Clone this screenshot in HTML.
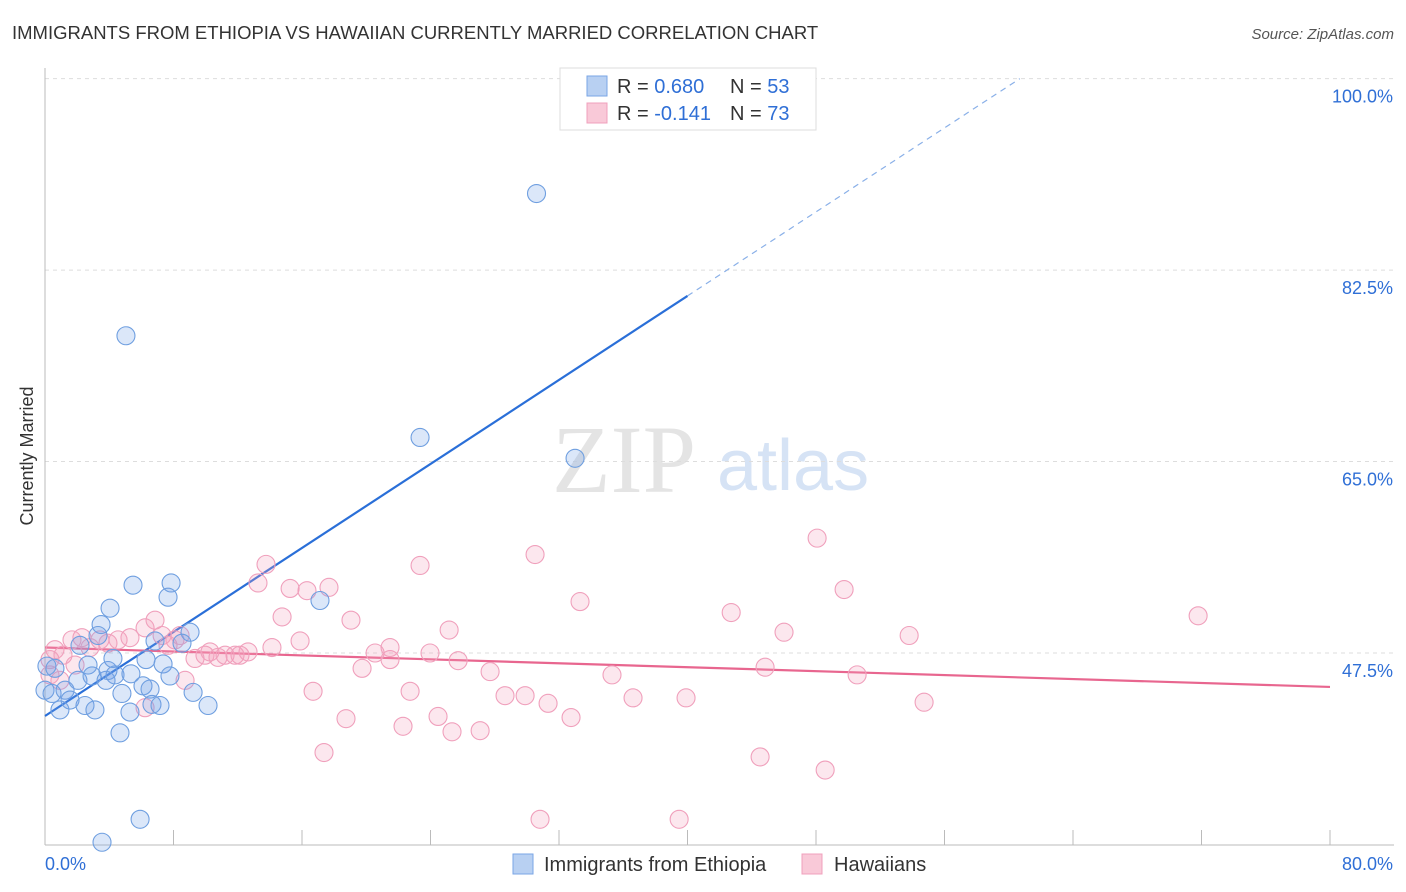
<!DOCTYPE html>
<html><head><meta charset="utf-8"><style>
body{margin:0;background:#fff;font-family:"Liberation Sans",sans-serif}
svg{display:block}
</style></head><body>
<svg id="chart" width="1406" height="892" xmlns="http://www.w3.org/2000/svg">
<text x="12" y="39" font-size="18.5" fill="#333">IMMIGRANTS FROM ETHIOPIA VS HAWAIIAN CURRENTLY MARRIED CORRELATION CHART</text>
<text x="1394" y="39" font-size="15" fill="#555" text-anchor="end" font-style="italic">Source: ZipAtlas.com</text>
<g>
<text x="552" y="492" font-size="96" fill="#e4e4e4" font-family="Liberation Serif,serif">ZIP</text>
<text x="717" y="490" font-size="72" fill="#d6e3f5">atlas</text>
</g>
<g id="grid"></g>
<g id="axes"></g>
<text transform="translate(33,456) rotate(-90)" font-size="18" fill="#333" text-anchor="middle">Currently Married</text>
<g id="lines"></g>
<g id="pts"></g>
<g>
<rect x="560" y="68" width="256" height="62" fill="#fff" stroke="#ddd"/>
<rect x="587" y="76" width="20" height="20" fill="#b8d0f2" stroke="#7aa6e6"/>
<text x="617" y="93" font-size="20" fill="#333">R = <tspan fill="#2f6fd6">0.680</tspan><tspan x="730">N = </tspan><tspan fill="#2f6fd6">53</tspan></text>
<rect x="587" y="103" width="20" height="20" fill="#f9c9d8" stroke="#f0a0bc"/>
<text x="617" y="120" font-size="20" fill="#333">R = <tspan fill="#2f6fd6">-0.141</tspan><tspan x="730">N = </tspan><tspan fill="#2f6fd6">73</tspan></text>
</g>
<g>
<rect x="513" y="854" width="20" height="20" fill="#b8d0f2" stroke="#7aa6e6"/>
<text x="544" y="871" font-size="20" fill="#333">Immigrants from Ethiopia</text>
<rect x="802" y="854" width="20" height="20" fill="#f9c9d8" stroke="#f0a0bc"/>
<text x="834" y="871" font-size="20" fill="#333">Hawaiians</text>
</g>
</svg>
<script>
const blueX=[30.6,5.04,23.35,33.0,17.12,5.48,7.85,7.66,4.05,3.49,3.3,2.18,9.03,8.53,0.12,0.62,0,0.44,0.93,1.25,1.56,2.05,2.68,2.49,3.11,2.93,3.8,3.92,4.36,4.23,4.79,4.67,5.35,5.29,6.1,6.29,6.54,6.66,6.85,7.16,7.35,7.78,9.22,10.15,5.92,3.55];
const blueY=[89.5,76.5,67.2,65.3,52.3,53.7,53.9,52.6,51.6,50.1,49.1,48.2,49.4,48.4,46.3,46.1,44.1,43.8,42.3,44.1,43.2,45.0,46.4,42.7,42.3,45.4,45.0,45.9,45.5,47.0,43.8,40.2,45.6,42.1,44.5,46.9,44.2,42.8,48.6,42.7,46.5,45.4,43.9,42.7,32.3,30.2];
const pinkX=[13.76,13.26,14.76,15.26,16.31,17.68,15.88,19.05,16.69,17.37,18.74,19.74,20.55,21.48,21.48,22.29,22.73,23.35,23.97,24.47,25.16,25.34,25.72,27.09,27.71,28.64,29.89,30.51,31.32,32.75,33.31,30.82,35.3,36.61,39.48,39.91,42.72,44.52,44.83,46.01,48.07,48.57,49.75,50.56,53.8,54.73,71.79,0.31,0.62,1.12,1.68,2.3,2.8,3.42,3.92,4.55,5.29,6.23,6.85,7.29,7.66,8.09,8.41,8.72,9.34,9.96,10.27,10.77,11.21,11.83,12.14,12.64,14.13,0.31,6.23,0.93,1.87];
const pinkY=[55.6,53.9,50.8,53.4,53.2,53.5,48.6,50.5,44.0,38.4,41.5,46.1,47.5,48.0,46.9,40.8,44.0,55.5,47.5,41.7,49.6,40.3,46.8,40.4,45.8,43.6,43.6,56.5,42.9,41.6,52.2,32.3,45.5,43.4,32.3,43.4,51.2,38.0,46.2,49.4,58.0,36.8,53.3,45.5,49.1,43.0,50.9,46.9,47.8,47.3,48.7,48.9,48.0,48.7,48.4,48.7,48.9,49.8,50.5,49.1,48.2,48.7,49.1,45.0,47.0,47.3,47.6,47.1,47.3,47.3,47.3,47.6,48.0,45.5,42.5,45.0,46.4];
const yTicks=[100,82.5,65,47.5];
const yTickLabels=["100.0%","82.5%","65.0%","47.5%"];
const xTicks=[8,16,24,32,40,48,56,64,72,80];
const blueTrend=[41.74,0.96];
const pinkTrend=[48.0,-0.045];

const NS="http://www.w3.org/2000/svg";
const X0=45,X1=1330,Y0=653,YPER=10.94;
const sx=v=>X0+(X1-X0)*v/80;
const sy=v=>Y0-(v-47.5)*YPER;
function mk(tag,attrs,parent){const e=document.createElementNS(NS,tag);for(const k in attrs)e.setAttribute(k,attrs[k]);parent.appendChild(e);return e;}
const grid=document.getElementById('grid'),axes=document.getElementById('axes');
yTicks.forEach((t,i)=>{
 const l=mk('line',{x1:45,x2:1394,y1:sy(t),y2:sy(t),stroke:'#ddd','stroke-dasharray':'4,4'},grid);
 
 
 const tx=mk('text',{x:1393,y:sy(t)+24,'font-size':18,fill:'#2f6fd6','text-anchor':'end'},axes);
 tx.textContent=yTickLabels[i];
 
 
});
mk('line',{x1:45,x2:45,y1:68,y2:845,stroke:'#bbb'},axes);
mk('line',{x1:45,x2:1394,y1:845,y2:845,stroke:'#bbb'},axes);
xTicks.forEach(v=>{const t=mk('line',{x1:sx(v),x2:sx(v),y1:830,y2:845,stroke:'#bbb'},axes);
 
 });
const xl=mk('text',{x:45,y:870,'font-size':18,fill:'#2f6fd6'},axes);xl.textContent='0.0%';


const xr=mk('text',{x:1393,y:870,'font-size':18,fill:'#2f6fd6','text-anchor':'end'},axes);xr.textContent='80.0%';


const pts=document.getElementById('pts');
pinkX.forEach((x,i)=>{const c=mk('circle',{cx:sx(x),cy:sy(pinkY[i]),r:9,fill:'rgba(244,160,188,0.25)',stroke:'#f0a0bc','stroke-width':1.1},pts);
 
 });
blueX.forEach((x,i)=>{const c=mk('circle',{cx:sx(x),cy:sy(blueY[i]),r:9,fill:'rgba(110,160,230,0.25)',stroke:'#6f9fe0','stroke-width':1.1},pts);
 
 });
const lines=document.getElementById('lines');
const bt=x=>blueTrend[0]+blueTrend[1]*x;
const xEnd=(100-blueTrend[0])/blueTrend[1];
const b1=mk('line',{x1:sx(0),y1:sy(bt(0)),x2:sx(40),y2:sy(bt(40)),stroke:'#2a6fd8','stroke-width':2.2},lines);


const b2=mk('line',{x1:sx(40),y1:sy(bt(40)),x2:sx(xEnd),y2:sy(100),stroke:'#8ab0e8','stroke-width':1.2,'stroke-dasharray':'6,5'},lines);


const pt=x=>pinkTrend[0]+pinkTrend[1]*x;
const p1=mk('line',{x1:sx(0),y1:sy(pt(0)),x2:sx(80),y2:sy(pt(80)),stroke:'#e8668f','stroke-width':2.2},lines);


</script>
</body></html>
